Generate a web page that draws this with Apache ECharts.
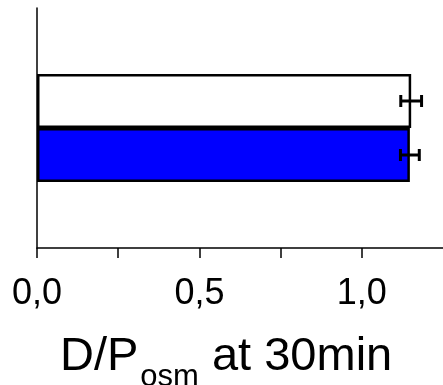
<!DOCTYPE html>
<html>
<head>
<meta charset="utf-8">
<script src="https://cdn.jsdelivr.net/npm/echarts@6/dist/echarts.min.js"></script>
<style>
  html, body { margin: 0; padding: 0; background: #fff; }
  #chart { width: 443px; height: 385px; }
</style>
</head>
<body>
<div id="chart"></div>
<script>
// Single measurement group, two conditions drawn as adjacent horizontal bars
const categories = ['30min'];
const seriesNames = ['control', 'treated'];
const controlValues = [1.152];
const controlErrors = [0.032];
const treatedValues = [1.148];
const treatedErrors = [0.029];
const xTickLabels = { '0': '0,0', '0.5': '0,5', '1': '1,0' };

const FONT = '"Liberation Sans", Arial, sans-serif';
const BAR_W = 54;

const chart = echarts.init(document.getElementById('chart'), null, { renderer: 'canvas' });

// Error bars: horizontal whisker with vertical caps, shifted to its bar's slot
function errorBarSeries(values, errors, slot) {
  return {
    type: 'custom',
    silent: true,
    z: 5,
    data: values.map((v, i) => [v, i, errors[i]]),
    renderItem: function (params, api) {
      const v = api.value(0), cat = api.value(1), e = api.value(2);
      const lo = api.coord([v - e, cat]);
      const hi = api.coord([v + e, cat]);
      const y = lo[1] + slot * BAR_W / 2;
      const cap = 6;
      const style = { stroke: '#000', lineWidth: 3 };
      return {
        type: 'group',
        children: [
          { type: 'line', shape: { x1: lo[0], y1: y, x2: hi[0], y2: y }, style },
          { type: 'line', shape: { x1: lo[0], y1: y - cap, x2: lo[0], y2: y + cap }, style },
          { type: 'line', shape: { x1: hi[0], y1: y - cap, x2: hi[0], y2: y + cap }, style }
        ]
      };
    }
  };
}

chart.setOption({
  animation: false,
  backgroundColor: '#fff',
  title: {
    text: '{m|D/P}{s|osm}{m| at 30min}',
    left: 60,
    top: 334,
    padding: 0,
    textStyle: {
      fontWeight: 'normal',
      rich: {
        m: { fontFamily: FONT, fontSize: 47, fontWeight: 'normal', color: '#000', lineHeight: 46, verticalAlign: 'top' },
        s: { fontFamily: FONT, fontSize: 31, fontWeight: 'normal', color: '#000', lineHeight: 31, verticalAlign: 'top', padding: [28, 0, 0, 2] }
      }
    }
  },
  grid: { left: 37, right: 0, top: 8, bottom: 137, containLabel: false },
  xAxis: {
    type: 'value',
    min: 0,
    max: 1.25,
    interval: 0.25,
    splitLine: { show: false },
    axisLine: { show: true, lineStyle: { color: '#000', width: 1.5 } },
    axisTick: { show: true, length: 10, inside: false, lineStyle: { color: '#000', width: 1.5 } },
    axisLabel: {
      margin: 28,
      fontFamily: FONT,
      fontSize: 36,
      color: '#000',
      showMaxLabel: false,
      formatter: function (v) { return xTickLabels[String(v)] || ''; }
    }
  },
  yAxis: {
    type: 'category',
    data: categories,
    axisLine: { show: true, lineStyle: { color: '#000', width: 1.5 } },
    axisTick: { show: false },
    axisLabel: { show: false },
    splitLine: { show: false }
  },
  series: [
    {
      name: seriesNames[0],
      type: 'bar',
      data: controlValues,
      barWidth: BAR_W,
      barGap: '0%',
      itemStyle: { color: '#ffffff', borderColor: '#000', borderWidth: 2.5 }
    },
    {
      name: seriesNames[1],
      type: 'bar',
      data: treatedValues,
      barWidth: BAR_W,
      barGap: '0%',
      itemStyle: { color: '#0000ff', borderColor: '#000', borderWidth: 2.5 }
    },
    errorBarSeries(controlValues, controlErrors, -1),
    errorBarSeries(treatedValues, treatedErrors, 1)
  ]
});
</script>
</body>
</html>
